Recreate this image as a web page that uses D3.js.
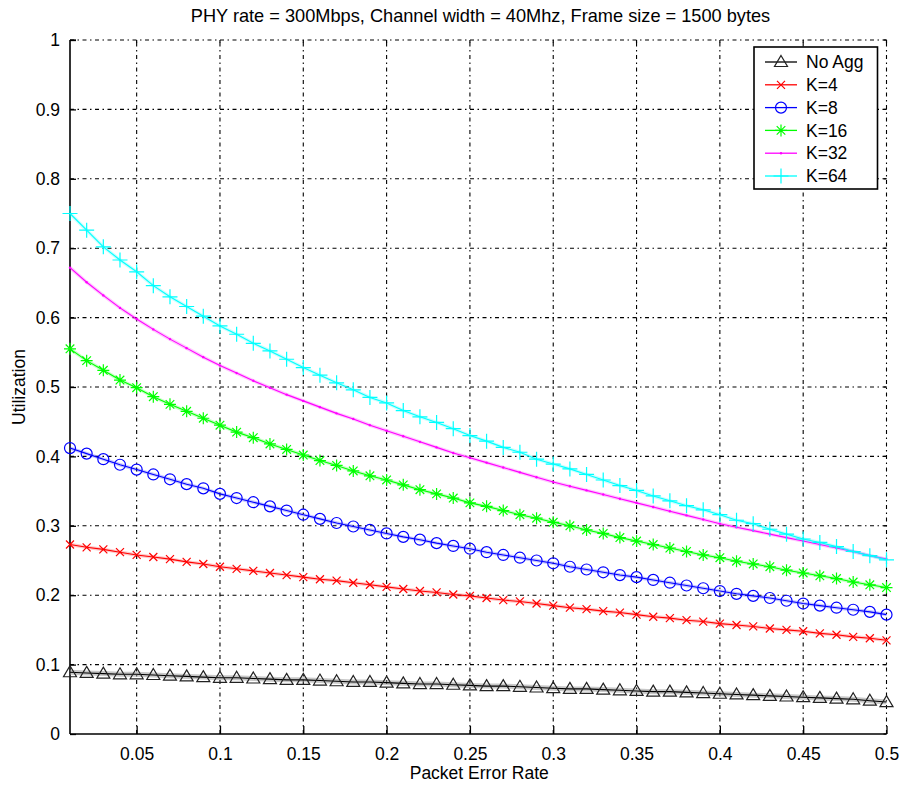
<!DOCTYPE html>
<html>
<head>
<meta charset="utf-8">
<script src="https://cdn.jsdelivr.net/npm/d3@7"></script>
<style>
  html, body { margin: 0; padding: 0; background: #fff; }
  svg text { font-family: "Liberation Sans", Arial, Helvetica, sans-serif; fill: #000; }
</style>
</head>
<body>
<svg id="chart" width="900" height="787"></svg>
<script>
// Packet error rate samples (0.01 ... 0.50)
const per = [0.01,0.02,0.03,0.04,0.05,0.06,0.07,0.08,0.09,0.10,
             0.11,0.12,0.13,0.14,0.15,0.16,0.17,0.18,0.19,0.20,
             0.21,0.22,0.23,0.24,0.25,0.26,0.27,0.28,0.29,0.30,
             0.31,0.32,0.33,0.34,0.35,0.36,0.37,0.38,0.39,0.40,
             0.41,0.42,0.43,0.44,0.45,0.46,0.47,0.48,0.49,0.50];

const noAgg = [0.089,0.088,0.087,0.086,0.086,0.085,0.084,0.083,0.082,0.081,
               0.081,0.080,0.079,0.078,0.078,0.077,0.076,0.075,0.075,0.074,
               0.073,0.072,0.072,0.071,0.070,0.069,0.069,0.068,0.067,0.066,
               0.065,0.065,0.064,0.063,0.062,0.061,0.061,0.060,0.059,0.058,
               0.057,0.056,0.055,0.054,0.053,0.052,0.051,0.050,0.048,0.046];

const k4 = [0.273,0.269,0.266,0.262,0.258,0.255,0.252,0.248,0.245,0.241,
            0.238,0.235,0.232,0.229,0.226,0.223,0.221,0.218,0.215,0.212,
            0.209,0.206,0.204,0.201,0.199,0.196,0.193,0.191,0.188,0.185,
            0.182,0.180,0.177,0.175,0.172,0.169,0.167,0.164,0.162,0.159,
            0.157,0.155,0.152,0.150,0.148,0.145,0.143,0.140,0.138,0.135];

const k8 = [0.412,0.404,0.396,0.388,0.381,0.374,0.367,0.360,0.354,0.346,
            0.340,0.334,0.328,0.322,0.316,0.310,0.304,0.299,0.294,0.289,
            0.284,0.280,0.275,0.271,0.267,0.262,0.258,0.254,0.250,0.246,
            0.241,0.237,0.233,0.229,0.226,0.222,0.218,0.214,0.210,0.206,
            0.202,0.199,0.196,0.192,0.188,0.185,0.182,0.179,0.176,0.172];

const k16 = [0.555,0.538,0.524,0.510,0.499,0.486,0.475,0.465,0.455,0.445,
             0.435,0.427,0.418,0.410,0.402,0.394,0.387,0.379,0.372,0.366,
             0.359,0.352,0.346,0.340,0.333,0.328,0.322,0.316,0.311,0.305,
             0.300,0.294,0.289,0.283,0.278,0.273,0.268,0.263,0.258,0.254,
             0.249,0.245,0.241,0.236,0.232,0.228,0.224,0.219,0.215,0.211];

const k32 = [0.672,0.651,0.632,0.614,0.598,0.583,0.569,0.556,0.543,0.531,
             0.520,0.509,0.499,0.489,0.480,0.471,0.462,0.454,0.445,0.437,
             0.429,0.421,0.413,0.405,0.398,0.391,0.384,0.377,0.370,0.363,
             0.357,0.351,0.345,0.339,0.333,0.327,0.321,0.315,0.309,0.303,
             0.298,0.293,0.288,0.283,0.278,0.273,0.268,0.263,0.257,0.252];

const k64 = [0.750,0.726,0.702,0.683,0.666,0.646,0.630,0.616,0.602,0.588,
             0.576,0.563,0.552,0.540,0.528,0.517,0.506,0.496,0.485,0.477,
             0.466,0.457,0.449,0.440,0.430,0.422,0.413,0.406,0.396,0.389,
             0.382,0.374,0.366,0.358,0.351,0.343,0.336,0.329,0.323,0.316,
             0.308,0.303,0.295,0.288,0.281,0.276,0.270,0.263,0.257,0.251];

const seriesNames = ["No Agg", "K=4", "K=8", "K=16", "K=32", "K=64"];
const seriesColors = ["#000000", "#ff0000", "#0000ff", "#00ff00", "#ff00ff", "#00ffff"];
const seriesMarkers = ["triangle", "x", "circle", "star", "point", "plus"];
const seriesValues = [noAgg, k4, k8, k16, k32, k64];

const xTicks = [0.05,0.1,0.15,0.2,0.25,0.3,0.35,0.4,0.45,0.5];
const yTicks = [0,0.1,0.2,0.3,0.4,0.5,0.6,0.7,0.8,0.9,1];

const titleText = "PHY rate = 300Mbps, Channel width = 40Mhz, Frame size = 1500 bytes";
const xLabelText = "Packet Error Rate";
const yLabelText = "Utilization";

const svg = d3.select("#chart");
const plot = { left: 70, right: 886.5, top: 40, bottom: 734 };

const x = d3.scaleLinear().domain([0.01, 0.5]).range([plot.left, plot.right]);
const y = d3.scaleLinear().domain([0, 1]).range([plot.bottom, plot.top]);

// --- grid (dash-dot dotted lines) ---
const gridDash = "4,3.5,1.5,3.5";
const grid = svg.append("g").attr("stroke", "#000").attr("stroke-width", 1.1)
  .attr("stroke-dasharray", gridDash).attr("fill", "none");
grid.selectAll("line.gx").data(xTicks).join("line").attr("class", "gx")
  .attr("x1", d => x(d)).attr("x2", d => x(d))
  .attr("y1", plot.bottom).attr("y2", plot.top);
grid.selectAll("line.gy").data(yTicks.filter(d => d > 0)).join("line").attr("class", "gy")
  .attr("x1", plot.left).attr("x2", plot.right)
  .attr("y1", d => y(d)).attr("y2", d => y(d));

// --- axes ---
const xAxis = d3.axisBottom(x).tickValues(xTicks).tickSize(-8).tickPadding(14)
  .tickFormat(d3.format("~g"));
const yAxis = d3.axisLeft(y).tickValues(yTicks).tickSize(-6).tickPadding(10)
  .tickFormat(d3.format("~g"));

const gx = svg.append("g").attr("transform", `translate(0,${plot.bottom})`).call(xAxis);
const gy = svg.append("g").attr("transform", `translate(${plot.left},0)`).call(yAxis);
[gx, gy].forEach(g => {
  g.select(".domain").attr("stroke", "#000").attr("stroke-width", 1.6);
  g.selectAll(".tick line").attr("stroke", "#000").attr("stroke-width", 1.3);
  g.selectAll(".tick text").attr("font-size", 17.5)
    .attr("font-family", "'Liberation Sans', Arial, sans-serif");
});
gy.select(".domain").attr("d", `M0,${plot.bottom}V${plot.top}`);
gx.select(".domain").attr("d", `M${plot.left},0H${plot.right}`);

// small ticks on the top and right edges
const edge = svg.append("g").attr("stroke", "#000").attr("stroke-width", 1.2);
edge.selectAll("line.tt").data(xTicks).join("line").attr("class", "tt")
  .attr("x1", d => x(d)).attr("x2", d => x(d)).attr("y1", plot.top).attr("y2", plot.top + 3);
edge.selectAll("line.tr").data(yTicks).join("line").attr("class", "tr")
  .attr("x1", plot.right).attr("x2", plot.right - 3).attr("y1", d => y(d)).attr("y2", d => y(d));
edge.append("line").attr("x1", plot.left).attr("x2", plot.left + 6)
  .attr("y1", plot.top).attr("y2", plot.top);

// --- markers ---
function markerPath(type) {
  switch (type) {
    case "triangle": return "M0,-6.5L6.5,4.5L-6.5,4.5Z";
    case "x": return "M-4,-4L4,4M-4,4L4,-4";
    case "circle": return d3.symbol(d3.symbolCircle, Math.PI * 5.5 * 5.5)();
    case "star": return "M-6,0H6M0,-6V6M-4.3,-4.3L4.3,4.3M-4.3,4.3L4.3,-4.3";
    case "point": return d3.symbol(d3.symbolCircle, Math.PI * 1.2 * 1.2)();
    case "plus": return "M-7.5,0H7.5M0,-7.5V7.5";
  }
}

const line = d3.line().x(d => x(d[0])).y(d => y(d[1]));

const series = seriesNames.map((name, i) => ({
  name, color: seriesColors[i], marker: seriesMarkers[i],
  points: per.map((p, j) => [p, seriesValues[i][j]])
}));

const marks = svg.append("g");
series.forEach(s => {
  const g = marks.append("g");
  const halo = s.marker === "triangle" ? "#9a9a9a" : s.color;
  g.append("path").datum(s.points).attr("d", line).attr("fill", "none")
    .attr("stroke", halo).attr("stroke-width", s.marker === "triangle" ? 5 : 3.5)
    .attr("stroke-opacity", s.marker === "triangle" ? 0.55 : 0.22);
  g.append("path").datum(s.points).attr("d", line).attr("fill", "none")
    .attr("stroke", s.color).attr("stroke-width", 1.1);
  g.selectAll("path.m").data(s.points).join("path").attr("class", "m")
    .attr("transform", d => `translate(${x(d[0])},${y(d[1])})`)
    .attr("d", markerPath(s.marker))
    .attr("fill", s.marker === "point" ? s.color : "none")
    .attr("stroke", s.marker === "triangle" ? "#222" : s.color)
    .attr("stroke-width", s.marker === "point" ? 0 : 1.2);
});

// --- legend ---
const lg = { x: 754, y: 47, w: 123.5, h: 142, rowTop: 62, rowStep: 22.8 };
const legend = svg.append("g");
legend.append("rect").attr("x", lg.x).attr("y", lg.y).attr("width", lg.w).attr("height", lg.h)
  .attr("fill", "#fff").attr("stroke", "#000").attr("stroke-width", 1.6);
series.forEach((s, i) => {
  const cy = lg.rowTop + i * lg.rowStep;
  const row = legend.append("g").attr("transform", `translate(0,${cy})`);
  row.append("line").attr("x1", 765).attr("x2", 797).attr("y1", 0).attr("y2", 0)
    .attr("stroke", s.color).attr("stroke-width", 1.3);
  row.append("path").attr("transform", "translate(781,0)")
    .attr("d", markerPath(s.marker))
    .attr("fill", s.marker === "point" ? s.color : "none")
    .attr("stroke", s.marker === "triangle" ? "#222" : s.color)
    .attr("stroke-width", s.marker === "point" ? 0 : 1.2);
  row.append("text").attr("x", 806).attr("y", 0).attr("dy", "0.35em")
    .attr("font-size", 17.5).text(s.name);
});

// --- titles ---
svg.append("text").attr("x", 480.5).attr("y", 22)
  .attr("text-anchor", "middle").attr("font-size", 18.2).text(titleText);
svg.append("text").attr("x", (plot.left + plot.right) / 2 + 1).attr("y", 779)
  .attr("text-anchor", "middle").attr("font-size", 17.5).text(xLabelText);
svg.append("text").attr("transform", `translate(25,${(plot.top + plot.bottom) / 2})rotate(-90)`)
  .attr("text-anchor", "middle").attr("font-size", 17.5).text(yLabelText);
</script>
</body>
</html>
